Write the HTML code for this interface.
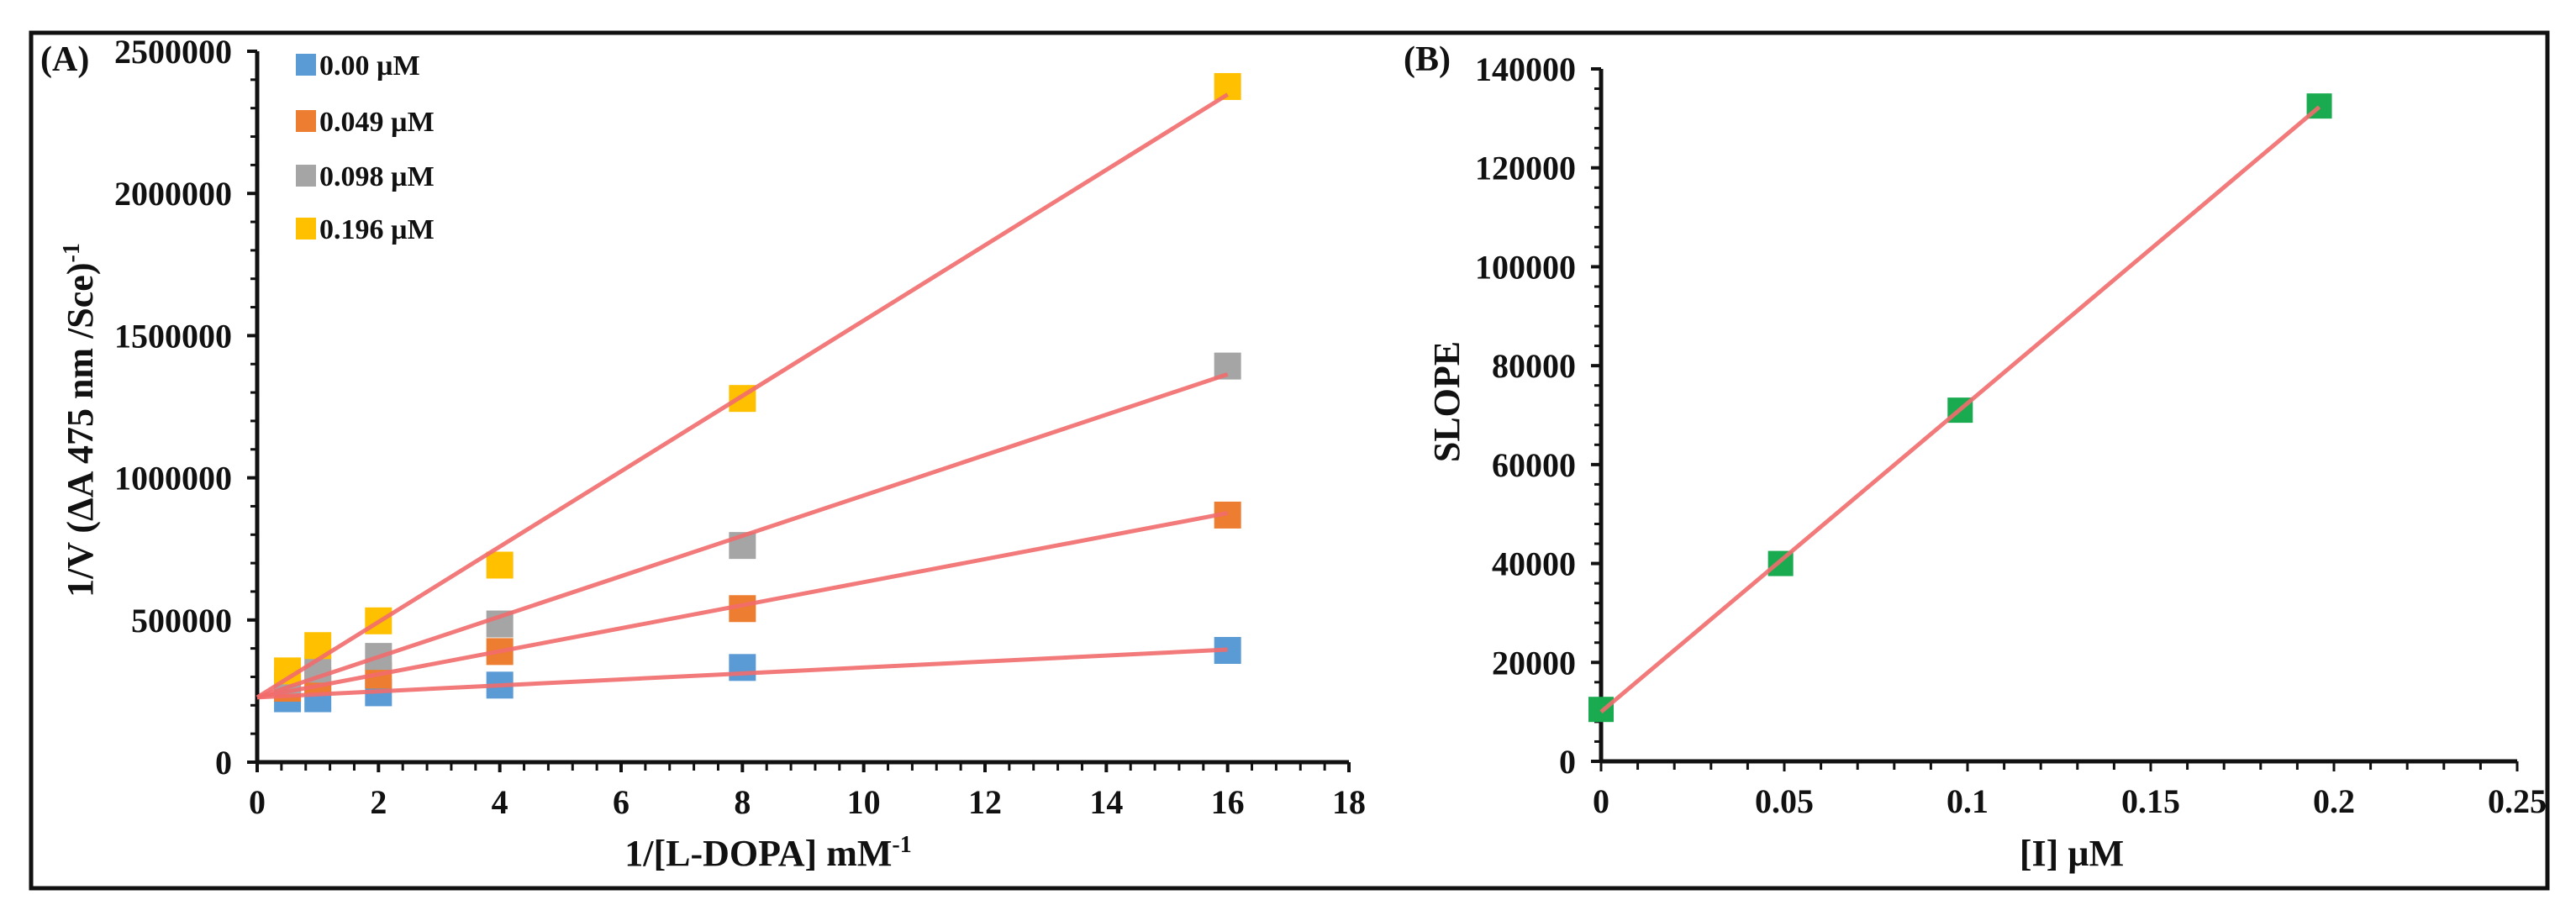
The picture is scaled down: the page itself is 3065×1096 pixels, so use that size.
<!DOCTYPE html>
<html><head><meta charset="utf-8"><style>
html,body{margin:0;padding:0;background:#fff}
svg{display:block}
text{font-family:"Liberation Serif",serif;font-weight:bold;fill:#111}
</style></head><body>
<svg id="fig" width="3065" height="1096" viewBox="0 0 3065 1096" xmlns="http://www.w3.org/2000/svg">
<rect x="37" y="39" width="2994" height="1018" fill="#fff" stroke="#111" stroke-width="5"/>
<g id="chartA"></g>
<g id="chartB"></g>
</svg>
<script>
// ---- Chart A data ----
const aXValues = [0.5, 1, 2, 4, 8, 16];
const aSeriesNames = ["0.00 µM", "0.049 µM", "0.098 µM", "0.196 µM"];
const aBlue = [223000, 223000, 244000, 271000, 333000, 393000];
const aOrange = [260000, 286000, 306000, 389000, 540000, 869000];
const aGray = [285000, 327000, 372000, 486000, 762000, 1393000];
const aYellow = [321000, 410000, 497000, 693000, 1279000, 2376000];
const aFitIntercepts = [228000, 228000, 228000, 228000];
const aFitSlopes = [10500, 40500, 71000, 132500];
const aXTicks = [0, 2, 4, 6, 8, 10, 12, 14, 16, 18];
const aYTicks = [0, 500000, 1000000, 1500000, 2000000, 2500000];
// ---- Chart B data ----
const bXValues = [0, 0.049, 0.098, 0.196];
const bSlopes = [10500, 40000, 71000, 132500];
const bFitIntercept = 10000;
const bFitSlope = 624000;
const bXTickLabels = ["0", "0.05", "0.1", "0.15", "0.2", "0.25"];
const bXTicks = [0, 0.05, 0.1, 0.15, 0.2, 0.25];
const bYTicks = [0, 20000, 40000, 60000, 80000, 100000, 120000, 140000];

const NS = "http://www.w3.org/2000/svg";
function mk(parent, tag, attrs, txt){
  const e = document.createElementNS(NS, tag);
  for (const k in attrs) e.setAttribute(k, attrs[k]);
  if (txt !== undefined) e.textContent = txt;
  parent.appendChild(e);
  return e;
}
const colors = ["#5b9bd5", "#ed7d31", "#a5a5a5", "#ffc000"];
const aSeries = [aBlue, aOrange, aGray, aYellow];

// Chart A axes
const A = {x0:306, x1:1605, y0:907, y1:61, xmax:18, ymax:2500000};
const ax = v => A.x0 + v / A.xmax * (A.x1 - A.x0);
const ay = v => A.y0 - v / A.ymax * (A.y0 - A.y1);
const gA = document.getElementById('chartA');

let el;
el = mk(gA, 'line', {x1:A.x0, y1:A.y0, x2:A.x0, y2:A.y1, stroke:'#111', 'stroke-width':5});


el = mk(gA, 'line', {x1:A.x0, y1:A.y0, x2:A.x1, y2:A.y0, stroke:'#111', 'stroke-width':5});


for (let v = 0; v <= A.ymax + 1; v += 100000) {
  const maj = v % 500000 === 0;
  el = mk(gA, 'line', {x1:A.x0 - (maj ? 12 : 8), y1:ay(v), x2:A.x0, y2:ay(v), stroke:'#111', 'stroke-width':maj ? 4 : 3});
  
  
}
for (let v = 0; v <= A.xmax + 0.01; v += 0.4) {
  el = mk(gA, 'line', {x1:ax(v), y1:A.y0, x2:ax(v), y2:A.y0 + 10, stroke:'#111', 'stroke-width':3});
  
  
}
for (const v of aXTicks) {
  el = mk(gA, 'line', {x1:ax(v), y1:A.y0, x2:ax(v), y2:A.y0 + 12, stroke:'#111', 'stroke-width':4});
  
  
  el = mk(gA, 'text', {x:ax(v), y:A.y0 + 61, 'font-size':40, 'text-anchor':'middle'}, String(v));
  
  
}
for (const v of aYTicks) {
  el = mk(gA, 'text', {x:A.x0 - 30, y:ay(v) + 14, 'font-size':40, 'text-anchor':'end'}, String(v));
  
  
}
el = mk(gA, 'text', {x:48, y:84, 'font-size':42}, '(A)');


el = mk(gA, 'text', {x:0, y:0, 'font-size':44, 'text-anchor':'middle', transform:'translate(110,500) rotate(-90)'});


el.innerHTML = '1/V (ΔA 475 nm /Sce)<tspan dy="-16" font-size="28">-1</tspan>';
el = mk(gA, 'text', {x:914, y:1030, 'font-size':44, 'text-anchor':'middle'});


el.innerHTML = '1/[L-DOPA] mM<tspan dy="-16" font-size="28">-1</tspan>';

// markers
const ms = 32;
aSeries.forEach((s, i) => {
  s.forEach((v, j) => {
    el = mk(gA, 'rect', {x:ax(aXValues[j]) - ms/2, y:ay(v) - ms/2, width:ms, height:ms, fill:colors[i]});
    
    
  });
});
// fit lines
aFitSlopes.forEach((m, i) => {
  const b = aFitIntercepts[i];
  el = mk(gA, 'line', {x1:ax(0), y1:ay(b), x2:ax(16), y2:ay(b + m * 16), stroke:'#f26b6b', 'stroke-width':5, 'stroke-opacity':0.9});
  
  
});
// legend
const legY = [77, 144, 209, 272];
aSeriesNames.forEach((n, i) => {
  el = mk(gA, 'rect', {x:352, y:legY[i] - 13, width:24, height:26, fill:colors[i]});
  
  
  el = mk(gA, 'text', {x:380, y:legY[i] + 12, 'font-size':34}, n);
  
  
});

// Chart B
const B = {x0:1905, x1:2995, y0:906, y1:82, xmax:0.25, ymax:140000};
const bx = v => B.x0 + v / B.xmax * (B.x1 - B.x0);
const by = v => B.y0 - v / B.ymax * (B.y0 - B.y1);
const gB = document.getElementById('chartB');
el = mk(gB, 'line', {x1:B.x0, y1:B.y0, x2:B.x0, y2:B.y1, stroke:'#111', 'stroke-width':5});


el = mk(gB, 'line', {x1:B.x0, y1:B.y0, x2:B.x1, y2:B.y0, stroke:'#111', 'stroke-width':5});


for (let v = 0; v <= B.ymax + 1; v += 4000) {
  const maj = v % 20000 === 0;
  el = mk(gB, 'line', {x1:B.x0 - (maj ? 12 : 8), y1:by(v), x2:B.x0, y2:by(v), stroke:'#111', 'stroke-width':maj ? 4 : 3});
  
  
}
for (let k = 0; k <= 25; k++) {
  const v = k * 0.01;
  el = mk(gB, 'line', {x1:bx(v), y1:B.y0, x2:bx(v), y2:B.y0 + (k % 5 === 0 ? 12 : 10), stroke:'#111', 'stroke-width':3});
  
  
}
bXTicks.forEach((v, i) => {
  el = mk(gB, 'text', {x:bx(v), y:B.y0 + 61, 'font-size':40, 'text-anchor':'middle'}, bXTickLabels[i]);
  
  
});
for (const v of bYTicks) {
  el = mk(gB, 'text', {x:B.x0 - 30, y:by(v) + 14, 'font-size':40, 'text-anchor':'end'}, String(v));
  
  
}
el = mk(gB, 'text', {x:1670, y:84, 'font-size':42}, '(B)');


el = mk(gB, 'text', {x:0, y:0, 'font-size':44, 'text-anchor':'middle', transform:'translate(1736,478) rotate(-90)'}, 'SLOPE');


el = mk(gB, 'text', {x:2465, y:1030, 'font-size':44, 'text-anchor':'middle'}, '[I] µM');


bXValues.forEach((v, i) => {
  el = mk(gB, 'rect', {x:bx(v) - 15, y:by(bSlopes[i]) - 15, width:30, height:30, fill:'#1aaa50'});
  
  
});
el = mk(gB, 'line', {x1:bx(0), y1:by(bFitIntercept), x2:bx(0.196), y2:by(bFitIntercept + bFitSlope * 0.196), stroke:'#f26b6b', 'stroke-width':5, 'stroke-opacity':0.9});


</script>
</body></html>
